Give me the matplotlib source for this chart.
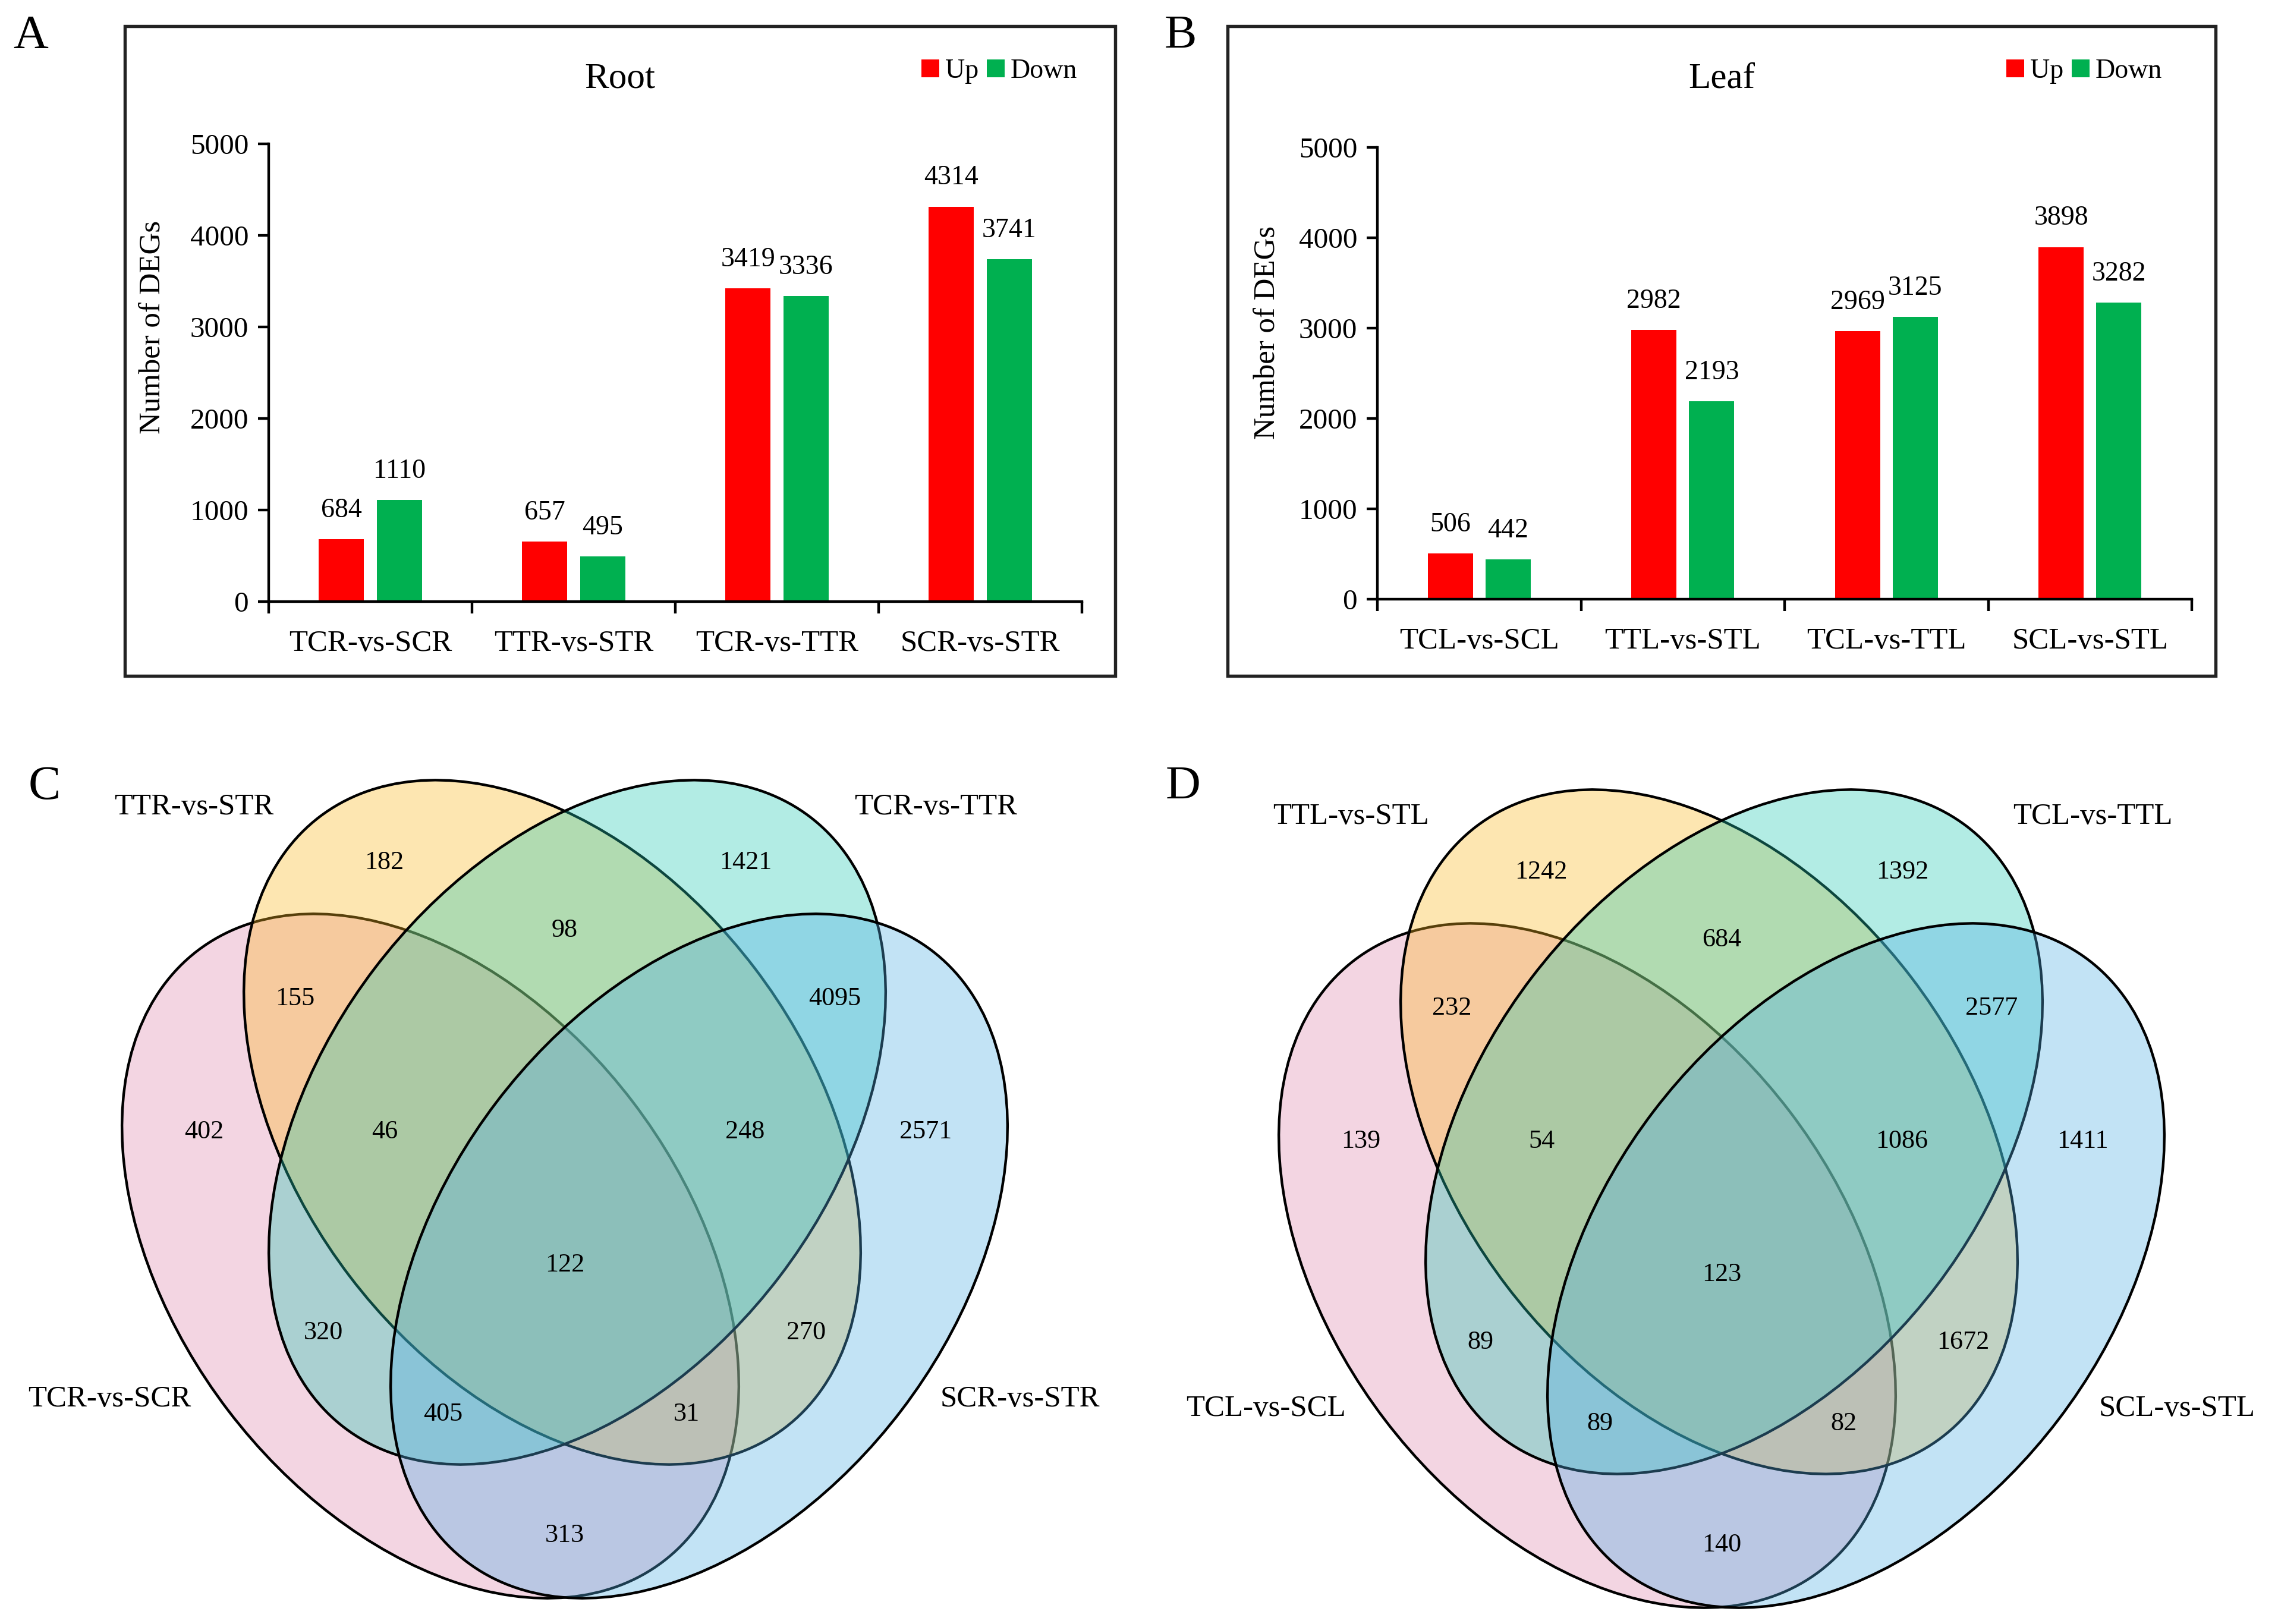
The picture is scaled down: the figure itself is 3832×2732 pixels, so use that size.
import numpy as np
import matplotlib
matplotlib.use('Agg')
import matplotlib.pyplot as plt
from matplotlib.patches import Ellipse, Rectangle
from matplotlib.colors import to_rgba

plt.rcParams['font.family'] = ['Liberation Serif', 'DejaVu Serif']

# bar chart data
root_groups = ['TCR-vs-SCR', 'TTR-vs-STR', 'TCR-vs-TTR', 'SCR-vs-STR']
root_up = [684, 657, 3419, 4314]
root_down = [1110, 495, 3336, 3741]

leaf_groups = ['TCL-vs-SCL', 'TTL-vs-STL', 'TCL-vs-TTL', 'SCL-vs-STL']
leaf_up = [506, 2982, 2969, 3898]
leaf_down = [442, 2193, 3125, 3282]

# venn data, set order: lower-left, upper-left, upper-right, lower-right
root_sets = ['TCR-vs-SCR', 'TTR-vs-STR', 'TCR-vs-TTR', 'SCR-vs-STR']
leaf_sets = ['TCL-vs-SCL', 'TTL-vs-STL', 'TCL-vs-TTL', 'SCL-vs-STL']
# region counts in the order of REGION_POS below
root_venn = [182, 1421, 155, 98, 4095, 402, 46, 248, 2571, 122, 320, 270, 405, 31, 313]
leaf_venn = [1242, 1392, 232, 684, 2577, 139, 54, 1086, 1411, 123, 89, 1672, 89, 82, 140]

# layout (pixels of the 3832x2732 canvas)
W, H = 3832, 2732
DPI = 244.4

ELL_CENTERS = [(-226, -213), (-21, 12), (21, 12), (226, -213)]
ELL_ANGLES = [-52.7, -52.7, 52.7, 52.7]
ELL_W, ELL_H = 1292, 856
VENN_COLORS = ['#DD87AC', '#FCB820', '#23C9B2', '#51AFE5']
REGION_POS = [(-304, 449), (304, 449), (-454, 220), (0, 335), (454, 220),
              (-607, -4), (-303, -4), (303, -4), (607, -4), (0, -228),
              (-406, -342), (406, -342), (-205, -479), (205, -479), (0, -683)]
SET_POS = [(-766, -454), (-624, 542), (624, 542), (766, -454)]


def fig_rect(x0, y0, x1, y1):
    return [x0/W, 1-y1/H, (x1-x0)/W, (y1-y0)/H]


def bar_panel(fig, box, axrect, title, groups, up, down, ylab_xy, legend_xy, letter, letter_xy):
    fig.add_artist(Rectangle((box[0]/W, 1-box[3]/H), (box[2]-box[0])/W, (box[3]-box[1])/H,
                             transform=fig.transFigure, fill=False, lw=1.6, ec='#222222'))
    ax = fig.add_axes(fig_rect(*axrect))
    x = np.arange(len(groups)) + 0.5
    b1 = ax.bar(x-0.142, up, 0.222, color='#FF0000', label='Up')
    b2 = ax.bar(x+0.142, down, 0.222, color='#00B050', label='Down')
    for bars, vals in ((b1, up), (b2, down)):
        for r, v in zip(bars, vals):
            ax.annotate(str(v), (r.get_x()+r.get_width()/2, v), xytext=(0, 8),
                        textcoords='offset points', ha='center', va='bottom', fontsize=13.5)
    ax.set_xlim(0, len(groups))
    ax.set_ylim(0, 5000)
    ax.set_yticks(np.arange(0, 5001, 1000))
    ax.set_xticks(np.arange(0, len(groups)+1))
    ax.set_xticklabels([])
    ax.set_xticks(x, minor=True)
    ax.set_xticklabels(groups, minor=True, fontsize=15)
    ax.tick_params(axis='x', which='major', direction='out', length=5.9, width=1.3)
    ax.tick_params(axis='x', which='minor', length=0, pad=14)
    ax.tick_params(axis='y', direction='out', length=5.3, width=1.3, pad=4.7, labelsize=14.5)
    for s in ['top', 'right']:
        ax.spines[s].set_visible(False)
    for s in ['left', 'bottom']:
        ax.spines[s].set_linewidth(1.3)
    ax.set_ylabel('Number of DEGs', fontsize=15)
    ax.yaxis.set_label_coords(*ylab_xy)
    ax.set_facecolor('none')
    ax.legend(handles=[b1, b2], loc='center left', bbox_to_anchor=(legend_xy[0]/W, 1-legend_xy[1]/H),
              bbox_transform=fig.transFigure, ncol=2, frameon=False, fontsize=13.5,
              handlelength=0.65, handleheight=0.65, handletextpad=0.22, columnspacing=0.3,
              borderpad=0, borderaxespad=0)
    fig.text((box[0]+box[2])/2/W, 1-147/H, title, fontsize=18, ha='center', va='baseline')
    fig.text(letter_xy[0]/W, 1-letter_xy[1]/H, letter, fontsize=24, ha='center', va='baseline')
    return ax


def venn_panel(fig, area, origin, sets, counts, letter, letter_xy):
    x0, y0, x1, y1 = area
    cx, cy = origin
    ax = fig.add_axes(fig_rect(x0, y0, x1, y1))
    ax.set_xlim(x0-cx, x1-cx)
    ax.set_ylim(cy-y1, cy-y0)
    ax.axis('off')
    for c, a, col in zip(ELL_CENTERS, ELL_ANGLES, VENN_COLORS):
        ax.add_patch(Ellipse(c, ELL_W, ELL_H, angle=a, facecolor=to_rgba(col, 0.35),
                             edgecolor='black', lw=1.3))
    for (u, v), n in zip(REGION_POS, counts):
        ax.text(u, v, str(n), ha='center', va='center', fontsize=13)
    for (u, v), s in zip(SET_POS, sets):
        ax.text(u, v, s, ha='center', va='center', fontsize=15)
    fig.text(letter_xy[0]/W, 1-letter_xy[1]/H, letter, fontsize=24, ha='center', va='baseline')
    return ax


def driver():
    fig = plt.figure(figsize=(W/DPI, H/DPI), dpi=DPI)

    bar_panel(fig, (210, 44, 1876, 1137), (452, 242, 1820, 1012), 'Root',
              root_groups, root_up, root_down, (-0.125, 0.6), (1550, 120), 'A', (52, 81))
    bar_panel(fig, (2065, 44, 3727, 1137), (2317, 248, 3687, 1008), 'Leaf',
              leaf_groups, leaf_up, leaf_down, (-0.118, 0.59), (3375, 120), 'B', (1986, 81))

    venn_panel(fig, (0, 1250, 1916, 2732), (950, 1900), root_sets, root_venn, 'C', (75, 1344))
    venn_panel(fig, (1916, 1250, 3832, 2732), (2896, 1916), leaf_sets, leaf_venn, 'D', (1990, 1344))

    fig.savefig('out.png', dpi=DPI, facecolor='white')


if __name__ == '__main__':
    driver()
